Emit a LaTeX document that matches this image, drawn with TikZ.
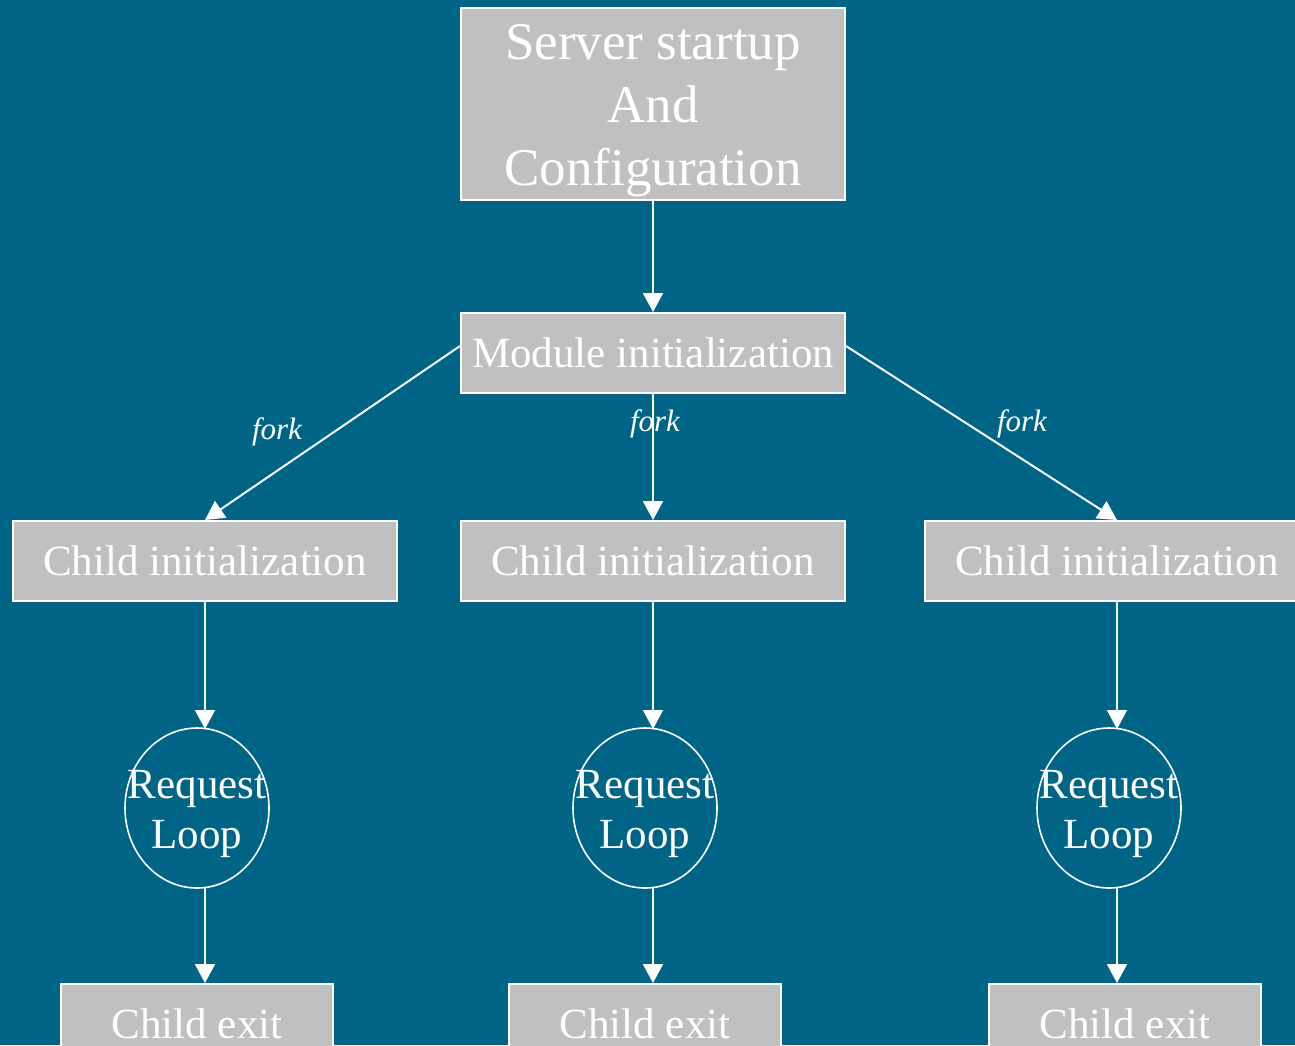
\documentclass[tikz,border=0pt]{standalone}
\usepackage{fontspec}
\setmainfont{Liberation Serif}
\usetikzlibrary{arrows.meta,shapes.geometric}
\definecolor{bgc}{RGB}{0,100,134}
\definecolor{boxc}{RGB}{192,192,192}
\begin{document}
\begin{tikzpicture}[x=1pt,y=-1pt,
  boxn/.style={draw=white,line width=2pt,fill=boxc,text=white,inner sep=0pt,
    minimum width=384pt,minimum height=80pt,align=center,font=\fontsize{43}{50}\selectfont},
  exitn/.style={boxn,minimum width=272pt},
  loopn/.style={draw=white,line width=1.6pt,ellipse,minimum width=144pt,minimum height=160pt,inner sep=0pt},
  looptxt/.style={text=white,align=center,inner sep=0pt,font=\fontsize{43}{50}\selectfont},
  forkl/.style={text=white,font=\fontsize{31}{36}\selectfont\itshape,inner sep=0pt},
  conn/.style={draw=white,line width=2pt,-{Triangle[length=19pt,width=20pt]}}]
\useasboundingbox (0,0) rectangle (1295,1045);
\fill[bgc] (0,0) rectangle (1295,1045);

\node[boxn,minimum height=192pt] (top) at (653,104) {};
\node[looptxt,font=\fontsize{53}{63}\selectfont] (toptxt) at (653,111) {Server startup\\And\\Configuration};
\node[boxn] (mod) at (653,353) {Module initialization};

\node[boxn] (cl) at (205,561) {Child initialization};
\node[boxn] (cm) at (653,561) {Child initialization};
\node[boxn] (cr) at (1117,561) {Child initialization};

\node[loopn] (rl) at (197,808) {};
\node[loopn] (rm) at (645,808) {};
\node[loopn] (rr) at (1109,808) {};
\node[looptxt] (tl) at (197,814) {Request\\Loop};
\node[looptxt] (tm) at (645,814) {Request\\Loop};
\node[looptxt] (tr) at (1109,814) {Request\\Loop};

\node[exitn] (el) at (197,1024) {Child exit};
\node[exitn] (em) at (645,1024) {Child exit};
\node[exitn] (er) at (1125,1024) {Child exit};

\draw[conn] (top.south) -- (mod.north);
\draw[conn] (mod.west) ++(0,-7) -- (cl.north);
\draw[conn] (mod.south) -- (cm.north);
\draw[conn] (mod.east) ++(0,-7) -- (cr.north);

\node[forkl] (f1) at (277,432) {fork};
\node[forkl] (f2) at (655,424) {fork};
\node[forkl] (f3) at (1022,424) {fork};

\draw[conn] (cl.south) -- (cl.south |- 0,729);
\draw[conn] (cm.south) -- (cm.south |- 0,729);
\draw[conn] (cr.south) -- (cr.south |- 0,729);

\draw[conn] (cl.south |- 0,887) -- (cl.south |- el.north);
\draw[conn] (cm.south |- 0,887) -- (cm.south |- em.north);
\draw[conn] (cr.south |- 0,887) -- (cr.south |- er.north);
\end{tikzpicture}
\end{document}
